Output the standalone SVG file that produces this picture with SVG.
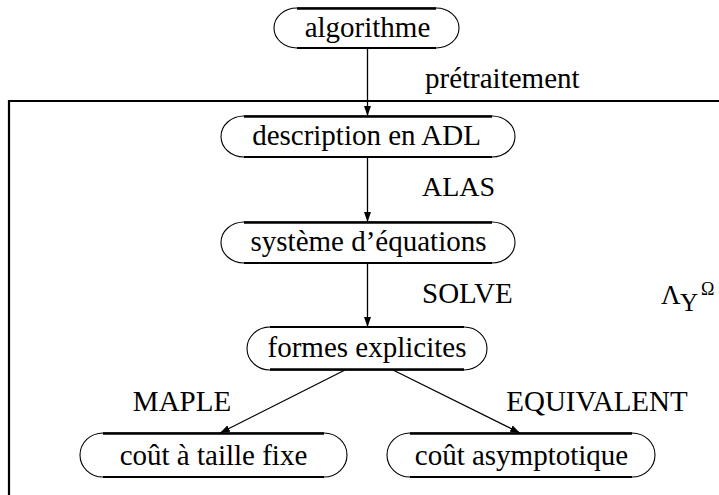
<svg xmlns="http://www.w3.org/2000/svg" width="719" height="495" viewBox="0 0 719 495">
<style>
  .bg { fill: #ffffff; }
  .frame { fill: none; stroke: #000; stroke-width: 2.2; }
  .outline { fill: #fff; stroke: #000; stroke-width: 1.1; }
  .edge { fill: none; stroke: #000; stroke-width: 2.4; }
  .edge2 { fill: none; stroke: #000; stroke-width: 1.8; }
  .conn { fill: none; stroke: #000; stroke-width: 1.3; }
</style>
<defs>
  <marker id="arr" markerUnits="userSpaceOnUse" markerWidth="11" markerHeight="7" refX="10" refY="3.5" orient="auto">
    <path d="M0,0 L10,3.5 L0,7 z" fill="#000"/>
  </marker>
</defs>
<rect class="bg" x="0" y="0" width="719" height="495"/>

<g id="frame">
  <path class="frame" d="M9,495 V101 H719"/>
  <text x="661" y="304" style="font-family:'Liberation Serif',serif;font-size:27px">Λ</text>
  <text x="680" y="311" style="font-family:'Liberation Serif',serif;font-size:25px">Υ</text>
  <text x="701" y="295" style="font-family:'Liberation Serif',serif;font-size:18px">Ω</text>
</g>

<g id="connectors">
  <path class="conn" d="M367.5,48 V116" marker-end="url(#arr)"/>
  <path class="conn" d="M367.5,157 V222" marker-end="url(#arr)"/>
  <path class="conn" d="M367.5,263 V327" marker-end="url(#arr)"/>
  <path class="conn" d="M345,370 L220,433" marker-end="url(#arr)"/>
  <path class="conn" d="M393,370 L520,433" marker-end="url(#arr)"/>
  <text x="425" y="88" style="font-family:'Liberation Serif',serif;font-size:29px">prétraitement</text>
  <text x="422" y="196" style="font-family:'Liberation Serif',serif;font-size:28px">ALAS</text>
  <text x="422" y="303" style="font-family:'Liberation Serif',serif;font-size:29px">SOLVE</text>
  <text x="182" y="411" text-anchor="middle" style="font-family:'Liberation Serif',serif;font-size:29px">MAPLE</text>
  <text x="597" y="411" text-anchor="middle" style="font-family:'Liberation Serif',serif;font-size:29px">EQUIVALENT</text>
</g>

<g id="n-algorithme">
  <path class="outline" d="M297,8 H436 A23,20 0 0 1 436,48 H297 A23,20 0 0 1 297,8 Z"/>
  <path class="edge" d="M297,8.5 H436"/>
  <path class="edge2" d="M297,48 H436"/>
  <text x="367.5" y="37" text-anchor="middle" style="font-family:'Liberation Serif',serif;font-size:29px">algorithme</text>
</g>

<g id="n-description">
  <path class="outline" d="M244,116 H492 A23,20.5 0 0 1 492,157 H244 A23,20.5 0 0 1 244,116 Z"/>
  <path class="edge" d="M244,116.5 H492"/>
  <path class="edge2" d="M244,157 H492"/>
  <text x="366.5" y="145" text-anchor="middle" style="font-family:'Liberation Serif',serif;font-size:29px">description en ADL</text>
</g>

<g id="n-systeme">
  <path class="outline" d="M244,222 H492 A23,20.5 0 0 1 492,263 H244 A23,20.5 0 0 1 244,222 Z"/>
  <path class="edge" d="M244,222.5 H492"/>
  <path class="edge2" d="M244,263 H492"/>
  <text x="368.5" y="251" text-anchor="middle" style="font-family:'Liberation Serif',serif;font-size:29px">système d’équations</text>
</g>

<g id="n-formes">
  <path class="outline" d="M270,327 H464 A23,21.5 0 0 1 464,370 H270 A23,21.5 0 0 1 270,327 Z"/>
  <path class="edge2" d="M270,327 H464"/>
  <path class="edge" d="M270,369.5 H464"/>
  <text x="367" y="357" text-anchor="middle" style="font-family:'Liberation Serif',serif;font-size:29px">formes explicites</text>
</g>

<g id="n-cout-fixe">
  <path class="outline" d="M103,433 H324 A23,22 0 0 1 324,477 H103 A23,22 0 0 1 103,433 Z"/>
  <path class="edge" d="M103,433.5 H324"/>
  <path class="edge2" d="M103,477 H324"/>
  <text x="213.5" y="465" text-anchor="middle" style="font-family:'Liberation Serif',serif;font-size:29px">coût à taille fixe</text>
</g>

<g id="n-cout-asym">
  <path class="outline" d="M410,433 H632 A23,22 0 0 1 632,477 H410 A23,22 0 0 1 410,433 Z"/>
  <path class="edge" d="M410,433.5 H632"/>
  <path class="edge2" d="M410,477 H632"/>
  <text x="521.5" y="465" text-anchor="middle" style="font-family:'Liberation Serif',serif;font-size:29px">coût asymptotique</text>
</g>

</svg>
